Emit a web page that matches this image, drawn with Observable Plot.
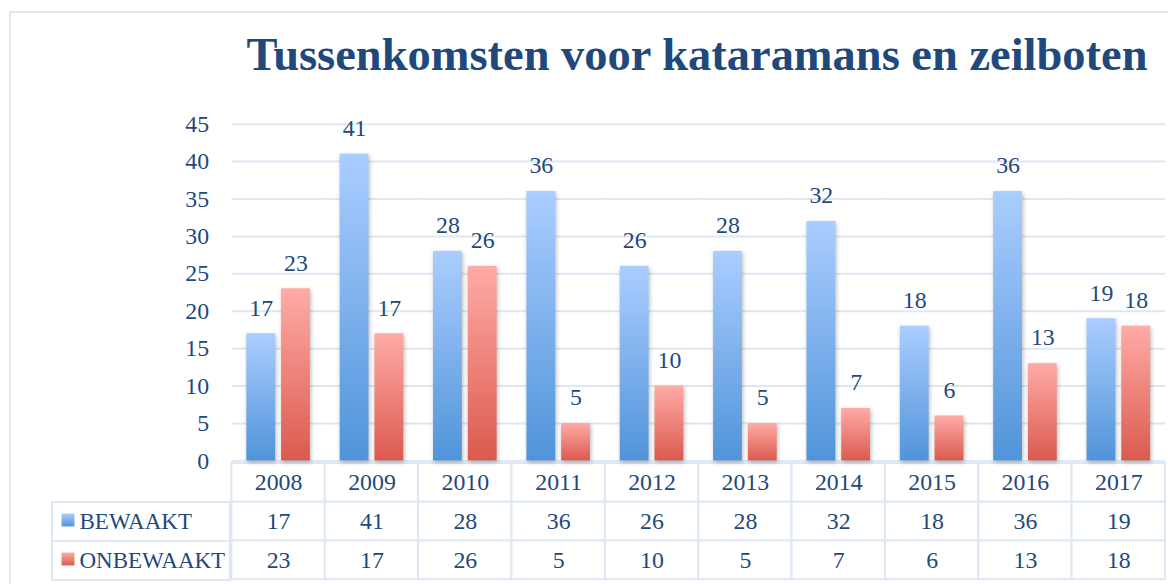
<!DOCTYPE html>
<html><head><meta charset="utf-8">
<script src="https://cdn.jsdelivr.net/npm/d3@7"></script>
<script src="https://cdn.jsdelivr.net/npm/@observablehq/plot@0.6"></script>
<style>
html,body{margin:0;padding:0;background:#fff;overflow:hidden}
#wrap{position:relative;width:1168px;height:584px;overflow:hidden;background:#fff;font-family:"Liberation Serif",serif}
#frame{position:absolute;left:9px;top:11px;width:1400px;height:800px;border:2px solid #dde8f5;box-sizing:border-box}
#title{position:absolute;left:0;top:33px;width:1394px;text-align:center;font-weight:bold;color:#1f497d;font-size:44px;line-height:44px;white-space:nowrap;font-family:"Liberation Serif",serif}
.layer{position:absolute;left:0}
.layer svg{display:block}
g[aria-label="bar"] rect{filter:drop-shadow(1px 2px 2px rgba(0,0,0,0.28))}
</style></head><body>
<svg width="0" height="0" style="position:absolute"><defs>
<linearGradient id="gB" x1="0" y1="0" x2="0" y2="1"><stop offset="0" stop-color="#abcdff"/><stop offset="1" stop-color="#5094d9"/></linearGradient>
<linearGradient id="gR" x1="0" y1="0" x2="0" y2="1"><stop offset="0" stop-color="#ffaba6"/><stop offset="1" stop-color="#db5a4f"/></linearGradient>
</defs></svg>
<div id="wrap">
  <div id="frame"></div>
  <div id="title">Tussenkomsten voor kataramans en zeilboten</div>
  <div id="tableLayer" class="layer" style="top:462px"></div>
  <div id="legendLayer" class="layer" style="top:462px"></div>
  <div id="chartLayer" class="layer" style="top:80px"></div>
</div>
<script>
const years = ["2008","2009","2010","2011","2012","2013","2014","2015","2016","2017"];
const series = ["BEWAAKT","ONBEWAAKT"];
const bewaakt = [17,41,28,36,26,28,32,18,36,19];
const onbewaakt = [23,17,26,5,10,5,7,6,13,18];
const yTicks = [0,5,10,15,20,25,30,35,40,45];
const fills = ["url(#gB)","url(#gR)"];
const rowNames = ["jaar","BEWAAKT","ONBEWAAKT"];

const textColor = "#1f497d";
const lineColor = "#dde8f4";
const baseStyle = {background:"transparent", fontFamily:"'Liberation Serif', serif", fontSize:"24px", color:textColor, overflow:"visible"};

// fit title width
(function(){
  const t = document.getElementById("title");
  const c = document.createElement("canvas").getContext("2d");
  c.font = "bold 44px 'Liberation Serif'";
  const w = c.measureText(t.textContent).width;
  t.style.fontSize = (44*902/w).toFixed(2) + "px";
})();

const rows = years.flatMap((year,i)=>[
  {year, series:"BEWAAKT", value:bewaakt[i]},
  {year, series:"ONBEWAAKT", value:onbewaakt[i]}
]);

const chart = Plot.plot({
  width:1176, height:400, marginTop:44, marginBottom:17, marginLeft:230, marginRight:0,
  style: baseStyle,
  facet: {data: rows, x: "year"},
  fx: {domain: years, padding: 0, axis: null, label: null},
  x: {domain: series, paddingInner: 0.167, paddingOuter: 0.397, axis: null},
  y: {domain:[0,45], ticks: yTicks, tickSize: 0, tickPadding: 23, label: null},
  color: {domain: series, range: fills},
  marks: [
    Plot.ruleY(yTicks, {stroke: lineColor, strokeWidth: 2}),
    Plot.barY(rows, {x:"series", y:"value", fill:"series"}),
    Plot.text(rows, {x:"series", y:"value", text: d => String(d.value), dy:-26, fill:textColor, fontSize:24})
  ]
});
document.getElementById("chartLayer").appendChild(chart);

const cells = years.flatMap((year,i)=>[
  {year, row:"jaar", label:year},
  {year, row:"BEWAAKT", label:String(bewaakt[i])},
  {year, row:"ONBEWAAKT", label:String(onbewaakt[i])}
]);

const table = Plot.plot({
  width:1176, height:123, marginTop:1, marginBottom:5, marginLeft:230, marginRight:0,
  style: baseStyle,
  x: {domain: years, padding: 0, axis: null},
  y: {domain: rowNames, padding: 0, axis: null},
  marks: [
    Plot.cell(cells, {x:"year", y:"row", fill:"white", stroke:lineColor, strokeWidth:2}),
    Plot.text(cells, {x:"year", y:"row", text:"label", fill:textColor, fontSize:24})
  ]
});
document.getElementById("tableLayer").appendChild(table);

const legend = Plot.plot({
  width:232, height:123, marginTop:1, marginBottom:5, marginLeft:52, marginRight:2,
  style: baseStyle,
  x: {domain:["key"], padding:0, axis:null},
  y: {domain: rowNames, padding:0, axis:null},
  color: {domain: series, range: fills},
  marks: [
    Plot.cell(series, {x: () => "key", y: d => d, fill:"white", stroke:lineColor, strokeWidth:2}),
    Plot.dot(series, {x: () => "key", y: d => d, symbol:"square", r:7.3, fill: d => d, dx:-73.5, dy:-2}),
    Plot.text(series, {x: () => "key", y: d => d, text: d => d, textAnchor:"start", dx:-62, fill:textColor, fontSize:23})
  ]
});
document.getElementById("legendLayer").appendChild(legend);
</script>
</body></html>
